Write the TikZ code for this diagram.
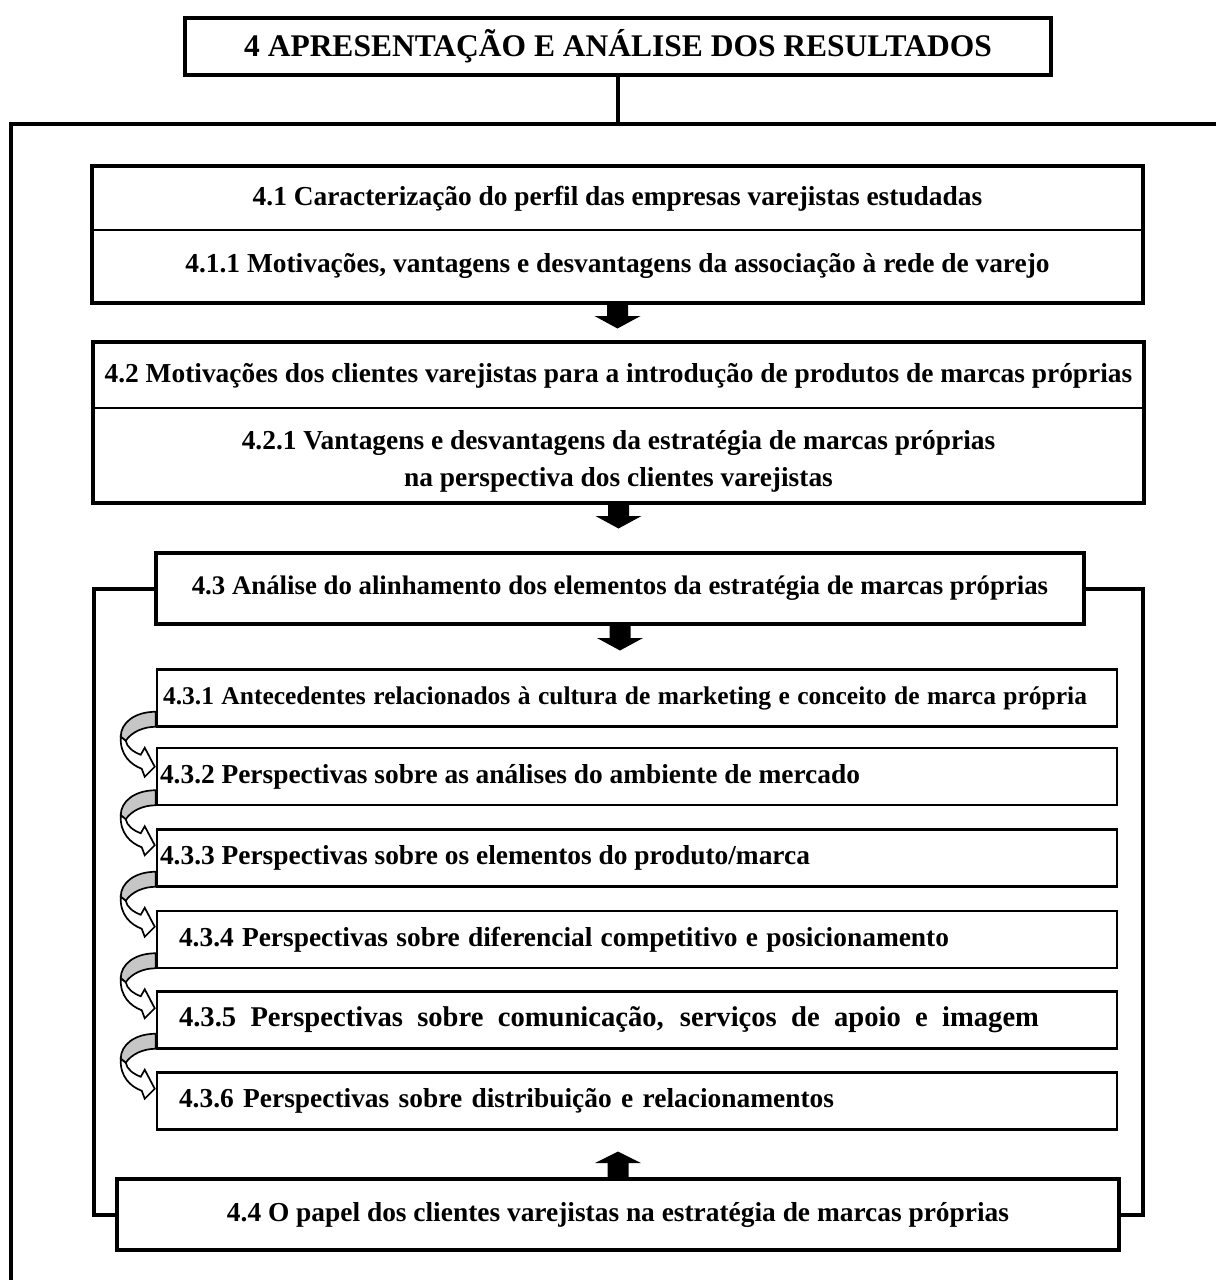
\documentclass[tikz,border=0pt]{standalone}
\usepackage{fontspec}
\setmainfont{Liberation Serif}
% left-aligned line of a full box width, with an indent and a set text width
\newcommand\subline[3]{\makebox[960pt][l]{\hspace*{#1pt}\makebox[#2pt][s]{#3}}}
\begin{document}
\begin{tikzpicture}[x=1pt,y=-1pt,
  titletxt/.style={font=\fontsize{31.5}{36}\selectfont\bfseries},
  txt/.style={font=\fontsize{27.4}{37}\selectfont\bfseries},
  subtxt/.style={font=\fontsize{27.4}{30}\selectfont\bfseries},
  heavy/.style={draw, line width=4pt},
  thinbox/.style={draw, line width=2pt, inner sep=0pt, txt, align=center},
  plain/.style={inner sep=0pt, txt, align=center},
  sub/.style={draw, line width=2.5pt, inner sep=0pt, minimum width=960pt,
    minimum height=57pt, subtxt},
  link/.style={line width=4pt},
  blockdown/.pic={\fill[black] (-10.5,0) -- (10.5,0) -- (10.5,13) -- (23,13)
    -- (0,25.5) -- (-23,13) -- (-10.5,13) -- cycle;},
  blockup/.pic={\fill[black] (-10.5,0) -- (10.5,0) -- (10.5,-14) -- (23,-14)
    -- (0,-25.5) -- (-23,-14) -- (-10.5,-14) -- cycle;},
  curl/.pic={
    \filldraw[fill=gray!45, line width=1.7pt, line join=round]
      (0,-16) .. controls (-21,-16) and (-35,-5) .. (-35,9)
      -- (-30,13) .. controls (-24,4) and (-12,-1) .. (0,-1) -- cycle;
    \filldraw[fill=white, line width=1.7pt, line join=miter]
      (-35,9) .. controls (-36,27) and (-25,37) .. (-14,41)
      -- (-11,49) -- (-1,39) -- (-11,20) -- (-15,27)
      .. controls (-23,24) and (-29,19) .. (-30,13) -- cycle;}
]
\useasboundingbox (0,0) rectangle (1216,1280);

% chapter title
\node[heavy, plain, titletxt, minimum width=866pt, minimum height=57pt] (top) at (618,46.5)
  {4 APRESENTAÇÃO E ANÁLISE DOS RESULTADOS};

% outer frame, open at the right and the bottom
\coordinate (fr) at (1216,124);
\coordinate (fl) at (11,124);
\coordinate (fb) at (11,1280);
\draw[link] (fr) -- (fl) -- (fb);
\draw[link] (top.south) -- (top.south |- fl);

% section 4.1
\node[thinbox, minimum width=1049pt, minimum height=63pt] (s41) at (617.5,198.5)
  {4.1 Caracterização do perfil das empresas varejistas estudadas};
\node[thinbox, minimum width=1049pt, minimum height=72pt] (s411) at (617.5,266)
  {4.1.1 Motivações, vantagens e desvantagens da associação à rede de varejo};
\draw[heavy] (s41.north west) rectangle (s411.south east);

% section 4.2
\node[thinbox, minimum width=1049pt, minimum height=65pt] (s42) at (618.5,375.5)
  {4.2 Motivações dos clientes varejistas para a introdução de produtos de marcas próprias};
\node[thinbox, minimum width=1049pt, minimum height=94pt] (s421) at (618.5,455)
  {\rule{0pt}{32pt}4.2.1 Vantagens e desvantagens da estratégia de marcas próprias\\
   na perspectiva dos clientes varejistas};
\draw[heavy] (s42.north west) rectangle (s421.south east);

% section 4.3
\node[heavy, plain, font=\fontsize{26.8}{32}\selectfont\bfseries,
  minimum width=928pt, minimum height=71pt] (s43) at (620,588.5)
  {4.3 Análise do alinhamento dos elementos da estratégia de marcas próprias};

\node[sub, font=\fontsize{25.5}{30}\selectfont\bfseries] (s431) at (637,698)
  {\subline{6}{924}{4.3.1 Antecedentes relacionados à cultura de marketing e conceito de marca própria}};
\node[sub] (s432) at (637,776.5)
  {\subline{3}{700}{4.3.2 Perspectivas sobre as análises do ambiente de mercado}};
\node[sub] (s433) at (637,858)
  {\subline{3}{650}{4.3.3 Perspectivas sobre os elementos do produto/marca}};
\node[sub] (s434) at (637,939.5)
  {\subline{22}{770}{4.3.4 Perspectivas sobre diferencial competitivo e posicionamento}};
\node[sub, font=\fontsize{28.6}{30}\selectfont\bfseries] (s435) at (637,1020)
  {\subline{22}{860}{4.3.5 Perspectivas sobre comunicação, serviços de apoio e imagem}};
\node[sub] (s436) at (637,1101)
  {\subline{22}{655}{4.3.6 Perspectivas sobre distribuição e relacionamentos}};

% section 4.4
\node[heavy, plain, minimum width=1002pt, minimum height=71pt] (s44) at (618,1214.5)
  {4.4 O papel dos clientes varejistas na estratégia de marcas próprias};

% brackets joining 4.3 and 4.4
\coordinate (bl) at (94,0);
\coordinate (br) at (1143,0);
\draw[link] (s43.west) -- (s43.west -| bl) -- (s44.west -| bl) -- (s44.west);
\draw[link] (s43.east) -- (s43.east -| br) -- (s44.east -| br) -- (s44.east);

% block arrows
\pic at (s411.south) {blockdown};
\pic at (s421.south) {blockdown};
\pic at ([yshift=1pt]s43.south) {blockdown};
\pic at (s44.north) {blockup};

% curved arrows between the subsections
\foreach \k in {1,...,5} {
  \pic at (s43\k.south west) {curl};
}
\end{tikzpicture}
\end{document}
